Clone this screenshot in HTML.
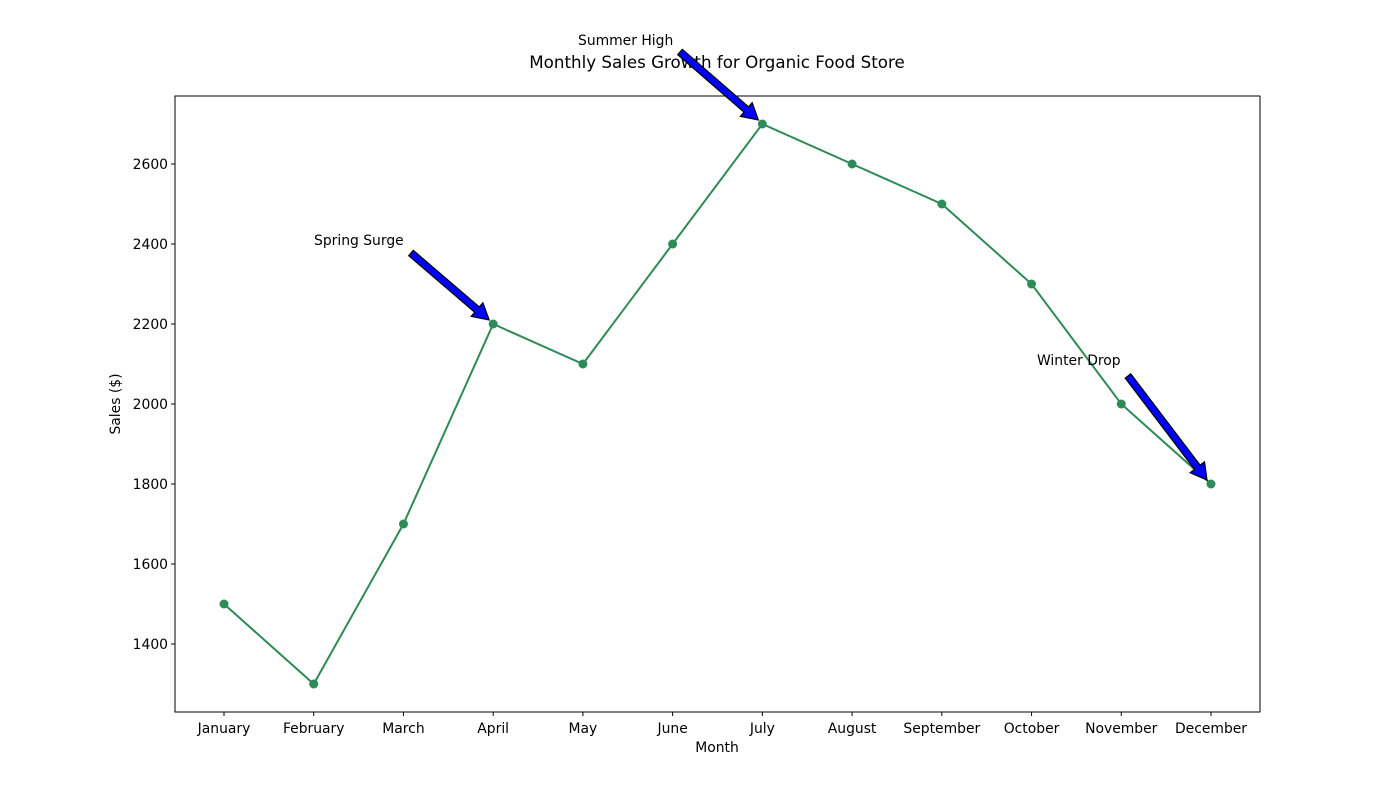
<!DOCTYPE html>
<html><head><meta charset="utf-8"><style>
body{margin:0;background:#fff;font-family:"DejaVu Sans","Liberation Sans",sans-serif;}
svg text{font-family:"DejaVu Sans","Liberation Sans",sans-serif;font-size:13.9px;fill:#000;}
</style></head><body>
<svg id="chart" width="1400" height="800"></svg>
<script>
const months=["January","February","March","April","May","June","July","August","September","October","November","December"];
const sales=[1500,1300,1700,2200,2100,2400,2700,2600,2500,2300,2000,1800];
const yTicks=[1400,1600,1800,2000,2200,2400,2600];
const annLabels=["Spring Surge","Summer High","Winter Drop"];
const annIndex=[3,6,11];
const annTextPos=[[314,240],[578,40],[1037,360]];
const annStart=[[411,253],[680,52],[1128,376]];

const NS="http://www.w3.org/2000/svg";
const svg=document.getElementById('chart');
const L=175,R=1260,T=96,B=712;
const x=i=>224+i*(1211-224)/11;
const y=v=>684-(v-1300)*0.4;
function el(t,a,p){const e=document.createElementNS(NS,t);for(const k in a)e.setAttribute(k,a[k]);(p||svg).appendChild(e);return e;}

const frame=el('rect',{x:L,y:T,width:R-L,height:B-T,fill:'none',stroke:'#000','stroke-width':1});



yTicks.forEach(v=>{
 const g=el('g',{});
 
 
 el('line',{x1:L-4,x2:L,y1:y(v),y2:y(v),stroke:'#000'},g);
 const t=el('text',{x:L-7,y:y(v)+5,'text-anchor':'end'},g);t.textContent=v;
});
months.forEach((m,i)=>{
 const g=el('g',{});
 
 
 el('line',{x1:x(i),x2:x(i),y1:B,y2:B+4,stroke:'#000'},g);
 const t=el('text',{x:x(i),y:B+21,'text-anchor':'middle'},g);t.textContent=m;
});
let t=el('text',{x:717,y:752,'text-anchor':'middle'});t.textContent='Month';


t=el('text',{x:120,y:404,'text-anchor':'middle',transform:'rotate(-90 120 404)'});t.textContent='Sales ($)';


t=el('text',{x:717,y:68,'text-anchor':'middle',style:'font-size:16.7px'});t.textContent='Monthly Sales Growth for Organic Food Store';



const line=el('polyline',{points:sales.map((v,i)=>x(i)+','+y(v)).join(' '),fill:'none',stroke:'#2e8b57','stroke-width':2});


sales.forEach((v,i)=>{
 const c=el('circle',{cx:x(i),cy:y(v),r:4.5,fill:'#2e8b57'});
 
 
});

annLabels.forEach((lab,k)=>{
 const [tx,ty]=annTextPos[k];
 const g=el('g',{});
 
 
 const tt=el('text',{x:tx,y:ty+5},g);tt.textContent=lab;
 const [sx,sy]=annStart[k];
 const ex=x(annIndex[k])-4, ey=y(sales[annIndex[k]])-4;
 const dx=ex-sx,dy=ey-sy,len=Math.hypot(dx,dy),ux=dx/len,uy=dy/len,px=-uy,py=ux;
 const sw=3.5,hw=9,hl=16;
 const bx=ex-ux*hl,by=ey-uy*hl;
 const pts=[[sx+px*sw,sy+py*sw],[bx+px*sw,by+py*sw],[bx+px*hw,by+py*hw],[ex,ey],[bx-px*hw,by-py*hw],[bx-px*sw,by-py*sw],[sx-px*sw,sy-py*sw]];
 el('polygon',{points:pts.map(p=>p.join(',')).join(' '),fill:'#0000ff',stroke:'#000','stroke-width':1.2},g);
});
</script>
</body></html>
